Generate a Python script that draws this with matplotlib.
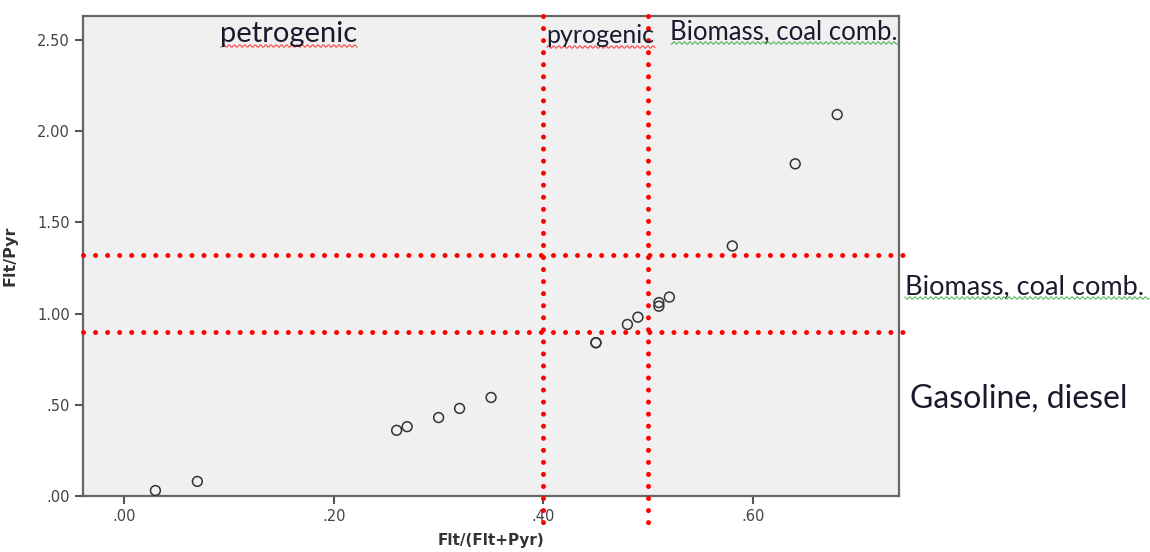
import matplotlib
matplotlib.use('Agg')
import matplotlib.pyplot as plt
import numpy as np
from matplotlib.ticker import FuncFormatter, MultipleLocator

# Flt/(Flt+Pyr) against Flt/Pyr for each sample
flt_ratio = [0.03, 0.07, 0.26, 0.27, 0.30, 0.32, 0.35, 0.45, 0.45,
             0.48, 0.49, 0.51, 0.51, 0.52, 0.58, 0.64, 0.68]
flt_pyr = [0.03, 0.08, 0.36, 0.38, 0.43, 0.48, 0.54, 0.84, 0.84,
           0.94, 0.98, 1.04, 1.06, 1.09, 1.37, 1.82, 2.09]

# source boundaries
x_bounds = [0.40, 0.50]
y_bounds = [0.90, 1.32]

xlim = (-0.039, 0.739)
ylim = (0.0, 2.63)


def spss_fmt(v, pos):
    s = '%.2f' % v
    if s.startswith('0'):
        s = s[1:]
    return s


fig = plt.figure(figsize=(11.5, 5.52), dpi=100)
ax = fig.add_axes([0.0722, 0.1014, 0.7096, 0.8696])
ax.set_facecolor('#f0f0f0')

ax.scatter(flt_ratio, flt_pyr, s=50, facecolors='none', edgecolors='#333333',
           linewidths=1.1, zorder=3)

ax.set_xlim(*xlim)
ax.set_ylim(*ylim)
ax.xaxis.set_major_locator(MultipleLocator(0.2))
ax.yaxis.set_major_locator(MultipleLocator(0.5))
ax.xaxis.set_major_formatter(FuncFormatter(spss_fmt))
ax.yaxis.set_major_formatter(FuncFormatter(spss_fmt))
ax.tick_params(direction='out', length=6, width=1.5, color='#555555',
               labelsize=10.5, labelcolor='#444444')
for sp in ax.spines.values():
    sp.set_color('#666666')
    sp.set_linewidth(1.6)

ax.set_xlabel('Flt/(Flt+Pyr)', fontsize=11, fontweight='bold', color='#333333', labelpad=6)
ax.set_ylabel('Flt/Pyr', fontsize=11.5, fontweight='bold', color='#333333', labelpad=14)

# red dotted boundary lines, running a little past the frame
dot = dict(color='#ff0000', linewidth=3.6, linestyle=(0, (0.01, 2.4)),
           dash_capstyle='round', clip_on=False, zorder=4)
for xb in x_bounds:
    ax.plot([xb, xb], [ylim[1], -0.17], **dot)
for yb in y_bounds:
    ax.plot([xlim[0], 0.747], [yb, yb], **dot)

font = ['Lato', 'DejaVu Sans']
W, H = 1150, 552


def label(px, py, s, size, wave=None):
    fig.text(px / W, 1 - py / H, s, fontsize=size, family=font,
             color='#1a1a2e', va='baseline', ha='left')
    if wave is not None:
        x0, x1, col = wave
        xs = np.arange(x0, x1, 1.0)
        ys = py + 4 + 1.3 * np.sin(xs * 1.2)
        fig.add_artist(plt.Line2D(xs / W, 1 - ys / H, color=col, lw=0.7))


label(220, 42, 'petrogenic', 21, (221, 358, '#ff3030'))
label(546, 43, 'pyrogenic', 18, (547, 656, '#ff3030'))
label(670, 39, 'Biomass, coal comb.', 18.5, (671, 899, '#40b040'))
label(905, 294, 'Biomass, coal comb.', 19.5, (905, 1150, '#40b040'))
label(910, 408, 'Gasoline, diesel', 23)

fig.savefig('out.png', dpi=100, facecolor='white')
